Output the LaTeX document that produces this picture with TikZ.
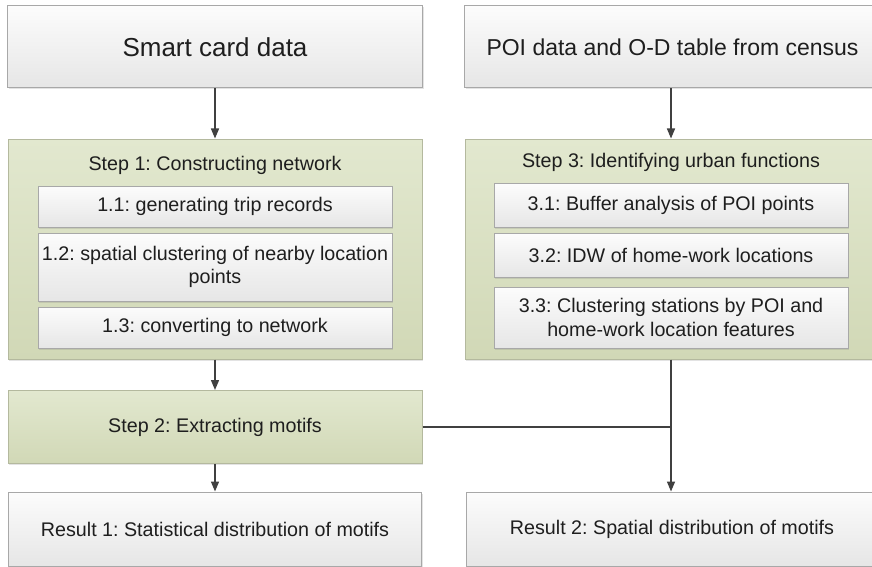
\documentclass[tikz,border=0pt]{standalone}
\usepackage{fontspec}
\setmainfont{Liberation Sans}
\usetikzlibrary{arrows.meta,shadows}
\definecolor{boxline}{HTML}{A8A8A8}
\definecolor{graytop}{HTML}{FCFCFC}
\definecolor{graybot}{HTML}{E6E6E6}
\definecolor{greentop}{HTML}{E2E8CF}
\definecolor{greenbot}{HTML}{D1D8B6}
\definecolor{greenline}{HTML}{B4B99E}
\definecolor{txt}{HTML}{1E1E1E}
\definecolor{arrowc}{HTML}{404040}
\tikzset{
  base/.style={rectangle, inner sep=0pt, line width=1pt, text=txt, align=center,
    drop shadow={shadow xshift=1.2pt, shadow yshift=-1.5pt, opacity=0.22}},
  graybox/.style={base, draw=boxline, top color=graytop, bottom color=graybot},
  greenbox/.style={base, draw=greenline, top color=greentop, bottom color=greenbot},
  subbox/.style={graybox, minimum width=354pt},
  normtext/.style={font=\fontsize{19.7}{23.5}\selectfont},
  arr/.style={draw=arrowc, line width=1.4pt, -{Triangle[width=8pt,length=10pt]}},
  ln/.style={draw=arrowc, line width=1.4pt}
}
\begin{document}
\frenchspacing
\begin{tikzpicture}[x=1pt,y=-1pt]
\useasboundingbox (0,0) rectangle (872,567);
\clip (0,0) rectangle (872,567);
\fill[white] (0,0) rectangle (872,567);

% sources
\node[graybox, minimum width=415pt, minimum height=82pt,
      font=\fontsize{26}{30}\selectfont] (src1) at (215,47) {Smart card data};
\node[graybox, minimum width=415pt, minimum height=82pt] (src2) at (672,47) {};
\node[font=\fontsize{23}{28}\selectfont, text=txt] (src2t) at (672.5,47) {POI data and O-D table from census};

% step 1
\node[greenbox, minimum width=414pt, minimum height=220pt] (step1) at (215,249) {};
\node[normtext, text=txt] (t1) at (215,165) {Step 1: Constructing network};
\node[subbox, normtext, minimum height=41pt] (s11) at (215,206.5) {1.1: generating trip records};
\node[subbox, normtext, minimum height=68pt] (s12) at (215,267) {1.2: spatial clustering of nearby location\\points};
\node[subbox, normtext, minimum height=41pt] (s13) at (215,327.5) {1.3: converting to network};

% step 3
\node[greenbox, minimum width=414pt, minimum height=220pt] (step3) at (672,249) {};
\node[normtext, text=txt] (t3) at (671,162) {Step 3: Identifying urban functions};
\node[subbox, normtext, minimum height=44pt] (s31) at (671,205) {3.1: Buffer analysis of POI points};
\node[subbox, normtext, minimum height=44pt] (s32) at (671,255) {3.2: IDW of home-work locations};
\node[subbox, normtext, minimum height=61pt] (s33) at (671,317.5) {3.3: Clustering stations by POI and\\home-work location features};

% step 2
\node[greenbox, normtext, minimum width=414pt, minimum height=73pt] (step2) at (215,427) {Step 2: Extracting motifs};

% results
\node[graybox, normtext, minimum width=413pt, minimum height=74pt] (res1) at (215,529) {Result 1: Statistical distribution of motifs};
\node[graybox, minimum width=414pt, minimum height=74pt] (res2) at (673,529) {};
\node[normtext, text=txt] (res2t) at (672,529) {Result 2: Spatial distribution of motifs};

% connectors
\coordinate (j) at (671,427);
\draw[arr] (src1.south) -- (step1.north);
\draw[arr] (step1.south) -- (step2.north);
\draw[arr] (step2.south) -- (res1.north);
\draw[arr] (src2.south -| j) -- (j |- step3.north);
\draw[ln] (step2.east) -- (j);
\draw[arr] (step3.south -| j) -- (j |- res2.north);
\end{tikzpicture}
\end{document}
